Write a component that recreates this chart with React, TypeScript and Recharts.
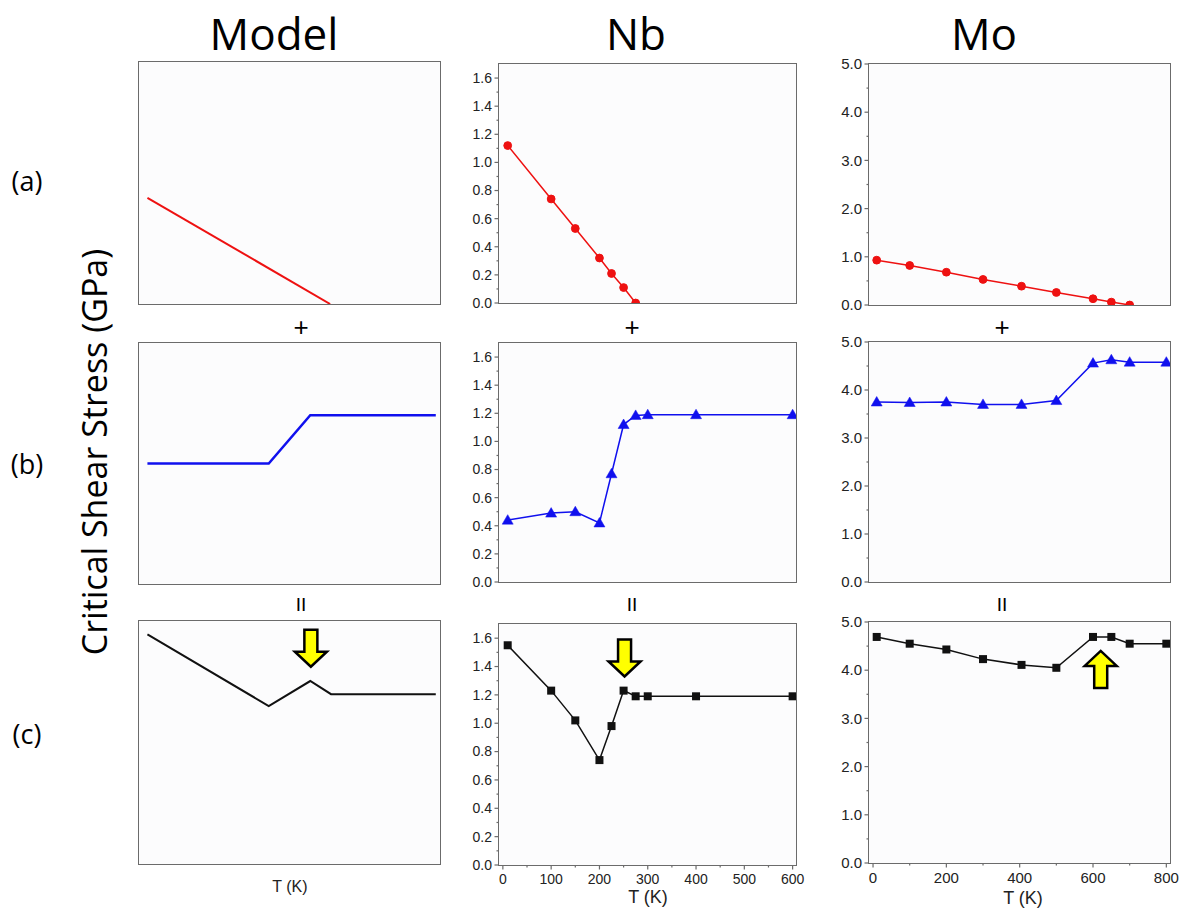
import React from "react";
import { LineChart, Line, XAxis, YAxis, ReferenceDot } from "recharts";

// Model schematics, arbitrary units inside a 0-100 box
const modelXa = [2.8, 63.5];
const modelYa = [43.9, 0];
const modelXb = [2.8, 43.1, 56.9, 98.6];
const modelYb = [50, 50, 70, 70];
const modelXc = [2.8, 43.1, 56.9, 63.8, 98.6];
const modelYc = [94.5, 65.0, 75.3, 69.9, 69.9];

// Nb, T (K) vs critical shear stress (GPa)
const nbTempA = [10, 100, 150, 200, 225, 250, 275];
const nbTauA = [1.12, 0.74, 0.53, 0.32, 0.21, 0.11, 0.0];
const nbTemp = [10, 100, 150, 200, 225, 250, 275, 300, 400, 600];
const nbTauB = [0.44, 0.49, 0.5, 0.42, 0.77, 1.12, 1.185, 1.19, 1.19, 1.19];
const nbTauC = [1.55, 1.23, 1.02, 0.74, 0.98, 1.23, 1.19, 1.19, 1.19, 1.19];

// Mo
const moTempA = [10, 100, 200, 300, 405, 500, 600, 650, 700];
const moTauA = [0.93, 0.82, 0.68, 0.53, 0.39, 0.26, 0.13, 0.06, 0.0];
const moTemp = [10, 100, 200, 300, 405, 500, 600, 650, 700, 800];
const moTauB = [3.75, 3.74, 3.75, 3.7, 3.7, 3.78, 4.56, 4.63, 4.58, 4.58];
const moTauC = [4.69, 4.55, 4.43, 4.23, 4.11, 4.05, 4.69, 4.69, 4.55, 4.55];

// ticks
const nbYTicks = [0, 0.2, 0.4, 0.6, 0.8, 1.0, 1.2, 1.4, 1.6];
const nbYMinor = [0.1, 0.3, 0.5, 0.7, 0.9, 1.1, 1.3, 1.5];
const nbXTicks = [0, 100, 200, 300, 400, 500, 600];
const nbXMinor = [50, 150, 250, 350, 450, 550];
const moYTicks = [0, 1, 2, 3, 4, 5];
const moYMinor = [0.5, 1.5, 2.5, 3.5, 4.5];
const moXTicks = [0, 200, 400, 600, 800];
const moXMinor = [100, 300, 500, 700];

// arrows marking the peak
const modelArrow = { x: 57.1, y: 81.2, dir: "down" };
const nbArrow = { x: 252, y: 1.33, dir: "down" };
const moArrow = { x: 621, y: 4.4, dir: "up" };

const pairs = (xs: number[], ys: number[]) => xs.map((x, i) => ({ x, y: ys[i] }));
const merged = (a: number[], b: number[]) => [...a, ...b].sort((p, q) => p - q);
const isIn = (list: number[], v: number) => list.some((m) => Math.abs(m - v) < 1e-9);

const AXIS = "#6b6b6b";
const TICK_FONT = "'Liberation Sans', Arial, sans-serif";
const TITLE_FONT = "'Open Sans', 'Noto Sans', sans-serif";
const PL = 60; // plot left inside each chart
const PT = 10; // plot top inside each chart

function Arrow({ cx, cy, dir }: any) {
  const s = dir === "up" ? -1 : 1;
  const pts = [
    [-6.5, -37], [6.5, -37], [6.5, -15], [16, -15], [0, 0], [-16, -15], [-6.5, -15],
  ]
    .map(([dx, dy]) => `${cx + dx},${cy + s * dy}`)
    .join(" ");
  return <polygon points={pts} fill="#ffff00" stroke="#000" strokeWidth={2.5} strokeLinejoin="miter" />;
}

function marker(kind: string | undefined, color: string) {
  if (!kind) return false;
  return (p: any) => {
    const { cx, cy, index } = p;
    if (kind === "circle") return <circle key={index} cx={cx} cy={cy} r={3.9} fill={color} stroke={color} />;
    if (kind === "triangle")
      return (
        <polygon
          key={index}
          points={`${cx},${cy - 5.5} ${cx + 5.5},${cy + 4} ${cx - 5.5},${cy + 4}`}
          fill={color}
          stroke={color}
          strokeWidth={0.5}
        />
      );
    return <rect key={index} x={cx - 4} y={cy - 4} width={8} height={8} fill={color} />;
  };
}

type PanelProps = {
  left: number;
  top: number;
  w: number;
  h: number;
  data: { x: number; y: number }[];
  xDomain: [number, number];
  yDomain: [number, number];
  yTicks?: number[];
  yMinor?: number[];
  xTicks?: number[];
  xMinor?: number[];
  color: string;
  kind?: string;
  lineWidth?: number;
  arrow?: { x: number; y: number; dir: string };
  fontSize?: number;
};

function Panel({
  left, top, w, h, data, xDomain, yDomain, yTicks, yMinor = [], xTicks, xMinor = [],
  color, kind, lineWidth = 1.5, arrow, fontSize = 14,
}: PanelProps) {
  const xH = xTicks ? 30 : 0;
  const bottom = PT + h;
  const textStyle = { fill: "#222", fontSize, fontFamily: TICK_FONT };

  const yTick = (p: any) => {
    const v = p.payload.value;
    const major = isIn(yTicks || [], v);
    return (
      <g key={"y" + v}>
        <line x1={PL - (major ? 4.5 : 2.5)} x2={PL} y1={p.y} y2={p.y} stroke={AXIS} strokeWidth={1.2} />
        {major && (
          <text x={PL - 7} y={p.y} dy="0.35em" textAnchor="end" {...textStyle}>
            {v.toFixed(1)}
          </text>
        )}
      </g>
    );
  };
  const xTick = (p: any) => {
    const v = p.payload.value;
    const major = isIn(xTicks || [], v);
    return (
      <g key={"x" + v}>
        <line x1={p.x} x2={p.x} y1={bottom} y2={bottom + (major ? 4.5 : 2.5)} stroke={AXIS} strokeWidth={1.2} />
        {major && (
          <text x={p.x} y={bottom + 9} dy="0.71em" textAnchor="middle" {...textStyle}>
            {v}
          </text>
        )}
      </g>
    );
  };

  return (
    <div style={{ position: "absolute", left: left - PL, top: top - PT }}>
      <div style={{ position: "absolute", left: PL, top: PT, width: w, height: h, background: "#fcfcfd" }} />
      <LineChart
        width={w + 70}
        height={h + 20 + xH}
        data={data}
        margin={{ top: PT, right: 10, left: yTicks ? 10 : PL, bottom: 10 }}
        style={{ position: "relative" }}
      >
        <XAxis
          type="number" dataKey="x" domain={xDomain} allowDataOverflow hide={!xTicks}
          ticks={xTicks ? merged(xTicks, xMinor) : undefined} interval={0} height={xH}
          axisLine={false} tickLine={false} tick={xTick}
        />
        <YAxis
          type="number" domain={yDomain} allowDataOverflow hide={!yTicks}
          ticks={yTicks ? merged(yTicks, yMinor) : undefined} interval={0} width={50}
          axisLine={false} tickLine={false} tick={yTick}
        />
        <Line
          type="linear" dataKey="y" stroke={color}
          strokeWidth={lineWidth} dot={marker(kind, color)} isAnimationActive={false}
        />
        {arrow && (
          <ReferenceDot x={arrow.x} y={arrow.y}
            shape={(p: any) => <Arrow cx={p.cx} cy={p.cy} dir={arrow.dir} />} />
        )}
      </LineChart>
      {/* plot frame */}
      <div
        style={{
          position: "absolute", left: PL - 0.75, top: PT - 0.75, width: w + 1.5, height: h + 1.5,
          boxSizing: "border-box", border: `1.5px solid ${AXIS}`, pointerEvents: "none",
        }}
      />
    </div>
  );
}

export default function App() {
  const m: [number, number] = [0, 100];
  const nbX: [number, number] = [-8, 607];
  const nbY: [number, number] = [0, 1.7];
  const moX: [number, number] = [-11, 810];
  const moY: [number, number] = [0, 5];
  const txt = { fontFamily: TITLE_FONT, fill: "#000" };
  return (
    <div style={{ position: "absolute", left: 0, top: 0, width: 1184, height: 911, background: "#fff", overflow: "hidden" }}>
      {/* Model column */}
      <Panel left={139} top={62} w={301} h={242} data={pairs(modelXa, modelYa)} xDomain={m} yDomain={m} color="#ee1111" lineWidth={2} />
      <Panel left={139} top={343} w={301} h={241} data={pairs(modelXb, modelYb)} xDomain={m} yDomain={m} color="#1010ee" lineWidth={2.5} />
      <Panel left={139} top={621} w={301} h={243} data={pairs(modelXc, modelYc)} xDomain={m} yDomain={m} color="#111" lineWidth={2} arrow={modelArrow} />

      {/* Nb column */}
      <Panel left={499} top={64} w={297} h={239} data={pairs(nbTempA, nbTauA)} xDomain={nbX} yDomain={nbY}
        yTicks={nbYTicks} yMinor={nbYMinor} color="#ee1111" kind="circle" />
      <Panel left={499} top={343} w={297} h={239} data={pairs(nbTemp, nbTauB)} xDomain={nbX} yDomain={nbY}
        yTicks={nbYTicks} yMinor={nbYMinor} color="#1010ee" kind="triangle" />
      <Panel left={499} top={624} w={297} h={241} data={pairs(nbTemp, nbTauC)} xDomain={nbX} yDomain={nbY}
        yTicks={nbYTicks} yMinor={nbYMinor} xTicks={nbXTicks} xMinor={nbXMinor} color="#111" kind="square" arrow={nbArrow} />

      {/* Mo column */}
      <Panel left={869} top={64} w={301} h={241} data={pairs(moTempA, moTauA)} xDomain={moX} yDomain={moY}
        yTicks={moYTicks} yMinor={moYMinor} color="#ee1111" kind="circle" fontSize={15} />
      <Panel left={869} top={342} w={301} h={240} data={pairs(moTemp, moTauB)} xDomain={moX} yDomain={moY}
        yTicks={moYTicks} yMinor={moYMinor} color="#1010ee" kind="triangle" fontSize={15} />
      <Panel left={869} top={622} w={301} h={241} data={pairs(moTemp, moTauC)} xDomain={moX} yDomain={moY}
        yTicks={moYTicks} yMinor={moYMinor} xTicks={moXTicks} xMinor={moXMinor} color="#111" kind="square" arrow={moArrow} fontSize={15} />

      <svg width={1184} height={911} style={{ position: "absolute", left: 0, top: 0, pointerEvents: "none" }}>
        <text x={274} y={50} textAnchor="middle" fontSize={44} {...txt}>Model</text>
        <text x={636} y={50} textAnchor="middle" fontSize={44} {...txt}>Nb</text>
        <text x={984} y={50} textAnchor="middle" fontSize={44} {...txt}>Mo</text>

        <text x={27} y={191} textAnchor="middle" fontSize={27} {...txt}>(a)</text>
        <text x={27} y={474} textAnchor="middle" fontSize={27} {...txt}>(b)</text>
        <text x={27} y={744} textAnchor="middle" fontSize={27} {...txt}>(c)</text>

        <text x={107} y={452} textAnchor="middle" fontSize={34} transform="rotate(-90 107 452)" {...txt}>
          Critical Shear Stress (GPa)
        </text>

        {[301, 632, 1002].map((x) => (
          <text key={"p" + x} x={x} y={336} textAnchor="middle" fontSize={26} fontFamily={TICK_FONT} fill="#000">+</text>
        ))}
        {[301, 632, 1002].map((x) => (
          <text key={"e" + x} x={x} y={611} textAnchor="middle" fontSize={19} fontFamily={TICK_FONT} fill="#000">II</text>
        ))}

        <text x={290} y={892} textAnchor="middle" fontSize={16} fontFamily={TICK_FONT} fill="#222">T (K)</text>
        <text x={648} y={903} textAnchor="middle" fontSize={18} fontFamily={TICK_FONT} fill="#222">T (K)</text>
        <text x={1023} y={904} textAnchor="middle" fontSize={18} fontFamily={TICK_FONT} fill="#222">T (K)</text>
      </svg>
    </div>
  );
}
